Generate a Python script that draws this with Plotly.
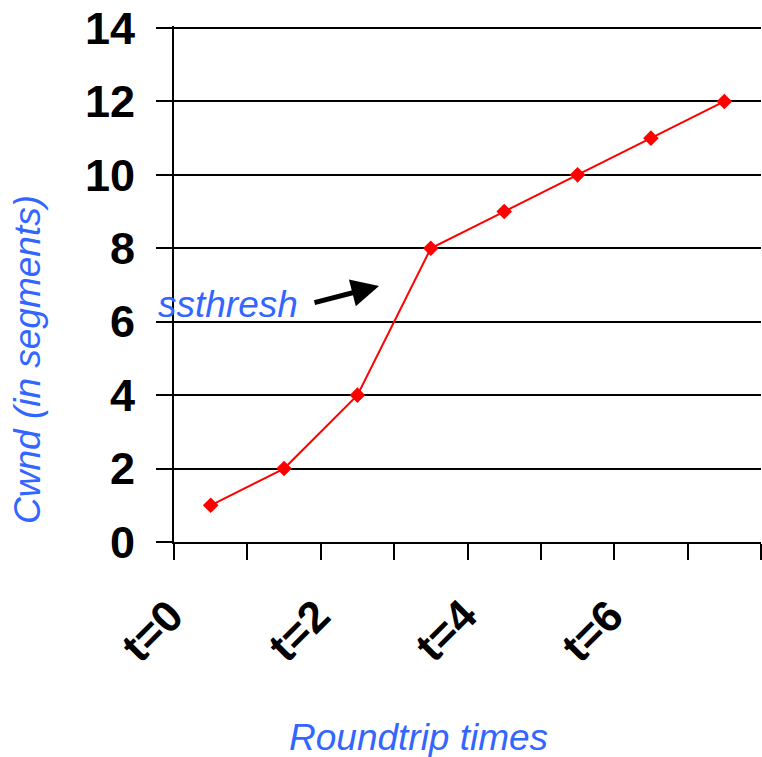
import plotly.graph_objects as go

categories = ["t=0", "t=1", "t=2", "t=3", "t=4", "t=5", "t=6", "t=7"]
cwnd = [1, 2, 4, 8, 9, 10, 11, 12]
shown_labels = ["t=0", "t=2", "t=4", "t=6"]
y_ticks = [0, 2, 4, 6, 8, 10, 12, 14]

BLUE = "#3366ff"
FONT = "Liberation Sans, Arial, sans-serif"

W, H = 762, 757
L, R, T, B = 174, 1, 26, 215
pw, ph = W - L - R, H - T - B
Y_TOP = 14 + 2 * 14 / (542 - 28)  # leave 2px above top gridline so it is drawn


def px_x(px):
    return (px - L) / pw


def px_y(py):
    return (H - B - py) / ph


fig = go.Figure()
fig.add_trace(go.Scatter(
    x=categories, y=cwnd, mode="lines+markers",
    line=dict(color="#ff0000", width=2),
    marker=dict(symbol="diamond", size=12, color="#ff0000"),
    showlegend=False,
))

annotations = []
for lab in shown_labels:
    annotations.append(dict(
        x=lab, xref="x", xshift=-59, y=px_y(630), yref="paper",
        text=lab, showarrow=False, textangle=-45,
        font=dict(family=FONT, size=44, color="black", weight="bold"),
        xanchor="center", yanchor="middle",
    ))

annotations.append(dict(
    x=px_x(418), y=px_y(737), xref="paper", yref="paper",
    text="Roundtrip times", showarrow=False,
    font=dict(family=FONT, size=37, color=BLUE, style="italic"),
    xanchor="center", yanchor="middle",
))
annotations.append(dict(
    x=px_x(27), y=px_y(360), xref="paper", yref="paper",
    text="Cwnd (in segments)", showarrow=False, textangle=-90,
    font=dict(family=FONT, size=37, color=BLUE, style="italic"),
    xanchor="center", yanchor="middle",
))
annotations.append(dict(
    x=px_x(228), y=px_y(304), xref="paper", yref="paper",
    text="ssthresh", showarrow=False,
    font=dict(family=FONT, size=37, color=BLUE, style="italic"),
    xanchor="center", yanchor="middle",
))
annotations.append(dict(
    x=px_x(379), y=px_y(286), xref="paper", yref="paper",
    text="", showarrow=True, ax=-66, ay=17,
    arrowhead=2, arrowsize=1.1, arrowwidth=5, arrowcolor="black",
))

fig.update_layout(
    width=W, height=H,
    margin=dict(l=L, r=R, t=T, b=B),
    paper_bgcolor="white", plot_bgcolor="white",
    annotations=annotations,
    xaxis=dict(
        type="category", range=[-0.5, 7.5],
        tickson="boundaries", ticks="outside", ticklen=16, tickwidth=2,
        tickcolor="black", showticklabels=False, showgrid=False,
        showline=True, linecolor="black", linewidth=2, zeroline=False,
    ),
    yaxis=dict(
        range=[0, Y_TOP], tickvals=y_ticks, ticktext=[str(v) for v in y_ticks],
        ticks="outside", ticklen=16, tickwidth=2, tickcolor="black",
        showgrid=True, gridcolor="black", gridwidth=2,
        showline=True, linecolor="black", linewidth=2, zeroline=False,
        tickfont=dict(family=FONT, size=45, color="black", weight="bold"),
        ticklabelstandoff=12,
    ),
)

fig.write_html("out.html", config={"displayModeBar": False},
               post_script="document.body.style.margin='0';")
